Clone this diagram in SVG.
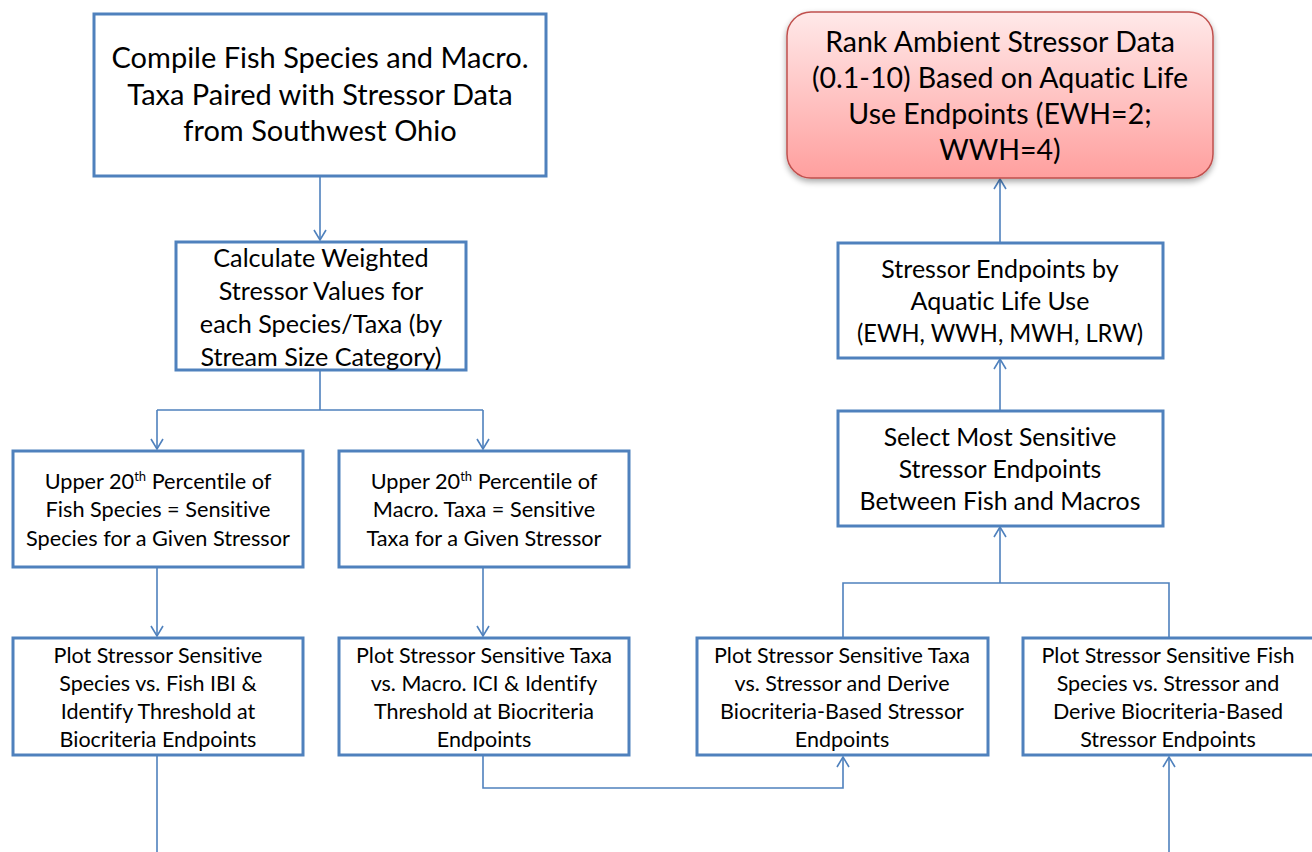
<svg xmlns="http://www.w3.org/2000/svg" width="1312" height="852" viewBox="0 0 1312 852">
<style>
.box{fill:#ffffff;stroke:#4F81BD;stroke-width:3}
.t{font-family:Lato,"Open Sans","Liberation Sans",sans-serif;fill:#000;text-anchor:middle;font-variant-ligatures:none}
.c{fill:none;stroke:#4F81BD;stroke-width:1.6}
.sup{font-size:13px}
</style>
<defs>
<marker id="arr" viewBox="0 0 12 14" refX="11" refY="7" markerWidth="12" markerHeight="14" markerUnits="userSpaceOnUse" orient="auto">
<path d="M1,1 L11,7 L1,13" fill="none" stroke="#4F81BD" stroke-width="1.6"/>
</marker>
<linearGradient id="red" x1="0" y1="0" x2="0" y2="1">
<stop offset="0" stop-color="#FFE9E9"/>
<stop offset="1" stop-color="#FF9F9E"/>
</linearGradient>
<filter id="sh" x="-10%" y="-10%" width="120%" height="130%">
<feGaussianBlur in="SourceAlpha" stdDeviation="3"/>
<feOffset dx="0" dy="3" result="b"/>
<feComponentTransfer><feFuncA type="linear" slope="0.35"/></feComponentTransfer>
<feMerge><feMergeNode/><feMergeNode in="SourceGraphic"/></feMerge>
</filter>
</defs>
<rect width="1312" height="852" fill="#ffffff"/>

<g id="connectors">
<path class="c" d="M320,176 V240" marker-end="url(#arr)"/>
<path class="c" d="M320,370 V410 M157,410 H483"/>
<path class="c" d="M157,410 V449" marker-end="url(#arr)"/>
<path class="c" d="M483,410 V449" marker-end="url(#arr)"/>
<path class="c" d="M157,567 V636" marker-end="url(#arr)"/>
<path class="c" d="M483,567 V636" marker-end="url(#arr)"/>
<path class="c" d="M157,755 V852"/>
<path class="c" d="M483,755 V788 H843 V757" marker-end="url(#arr)"/>
<path class="c" d="M1169,852 V757" marker-end="url(#arr)"/>
<path class="c" d="M843,638 V583 H1169 V638"/>
<path class="c" d="M1000,583 V527" marker-end="url(#arr)"/>
<path class="c" d="M1000,411 V359" marker-end="url(#arr)"/>
<path class="c" d="M1000,243 V179" marker-end="url(#arr)"/>
</g>

<g id="compile">
<rect class="box" x="94" y="14" width="452" height="162"/>
<text class="t" font-size="29"><tspan x="320" y="68">Compile Fish Species and Macro.</tspan><tspan x="320" y="105">Taxa Paired with Stressor Data</tspan><tspan x="320" y="141">from Southwest Ohio</tspan></text>
</g>

<g id="rank">
<rect x="787" y="12" width="426" height="166" rx="24" fill="url(#red)" stroke="#C0504D" stroke-width="1.5" filter="url(#sh)"/>
<text class="t" font-size="28.5"><tspan x="1000" y="52">Rank Ambient Stressor Data</tspan><tspan x="1000" y="88">(0.1-10) Based on Aquatic Life</tspan><tspan x="1000" y="124">Use Endpoints (EWH=2;</tspan><tspan x="1000" y="160">WWH=4)</tspan></text>
</g>

<g id="calculate">
<rect class="box" x="176" y="242" width="290" height="128"/>
<text class="t" font-size="25.2"><tspan x="321" y="266.5">Calculate Weighted</tspan><tspan x="321" y="299.5">Stressor Values for</tspan><tspan x="321" y="332.5">each Species/Taxa (by</tspan><tspan x="321" y="365.5">Stream Size Category)</tspan></text>
</g>

<g id="upper-fish">
<rect class="box" x="13" y="451" width="290" height="116"/>
<text class="t" font-size="21.7"><tspan x="158" y="488.6">Upper 20<tspan class="sup" dy="-8">th</tspan><tspan dy="8"> Percentile of</tspan></tspan><tspan x="158" y="517">Fish Species = Sensitive</tspan><tspan x="158" y="545.6">Species for a Given Stressor</tspan></text>
</g>

<g id="upper-macro">
<rect class="box" x="339" y="451" width="290" height="116"/>
<text class="t" font-size="21.7"><tspan x="484" y="488.6">Upper 20<tspan class="sup" dy="-8">th</tspan><tspan dy="8"> Percentile of</tspan></tspan><tspan x="484" y="517">Macro. Taxa = Sensitive</tspan><tspan x="484" y="545.6">Taxa for a Given Stressor</tspan></text>
</g>

<g id="plot-fish-ibi">
<rect class="box" x="13" y="638" width="290" height="117"/>
<text class="t" font-size="21.5"><tspan x="158" y="662.6">Plot Stressor Sensitive</tspan><tspan x="158" y="690.6">Species vs. Fish IBI &amp;</tspan><tspan x="158" y="718.6">Identify Threshold at</tspan><tspan x="158" y="746.6">Biocriteria Endpoints</tspan></text>
</g>

<g id="plot-macro-ici">
<rect class="box" x="339" y="638" width="290" height="117"/>
<text class="t" font-size="21.5"><tspan x="484" y="662.6">Plot Stressor Sensitive Taxa</tspan><tspan x="484" y="690.6">vs. Macro. ICI &amp; Identify</tspan><tspan x="484" y="718.6">Threshold at Biocriteria</tspan><tspan x="484" y="746.6">Endpoints</tspan></text>
</g>

<g id="plot-taxa-stressor">
<rect class="box" x="697" y="638" width="291" height="117"/>
<text class="t" font-size="21.5"><tspan x="842" y="662.6">Plot Stressor Sensitive Taxa</tspan><tspan x="842" y="690.6">vs. Stressor and Derive</tspan><tspan x="842" y="718.6">Biocriteria-Based Stressor</tspan><tspan x="842" y="746.6">Endpoints</tspan></text>
</g>

<g id="plot-fish-stressor">
<rect class="box" x="1023" y="638" width="300" height="117"/>
<text class="t" font-size="21.5"><tspan x="1168" y="662.6">Plot Stressor Sensitive Fish</tspan><tspan x="1168" y="690.6">Species vs. Stressor and</tspan><tspan x="1168" y="718.6">Derive Biocriteria-Based</tspan><tspan x="1168" y="746.6">Stressor Endpoints</tspan></text>
</g>

<g id="select">
<rect class="box" x="838" y="411" width="325" height="115"/>
<text class="t" font-size="24.8"><tspan x="1000" y="445.6">Select Most Sensitive</tspan><tspan x="1000" y="477.6">Stressor Endpoints</tspan><tspan x="1000" y="509.6">Between Fish and Macros</tspan></text>
</g>

<g id="stressor-endpoints">
<rect class="box" x="838" y="243" width="325" height="115"/>
<text class="t" font-size="25"><tspan x="1000" y="277.6">Stressor Endpoints by</tspan><tspan x="1000" y="309.6">Aquatic Life Use</tspan><tspan x="1000" y="341.6" textLength="286" lengthAdjust="spacingAndGlyphs">(EWH, WWH, MWH, LRW)</tspan></text>
</g>
</svg>
